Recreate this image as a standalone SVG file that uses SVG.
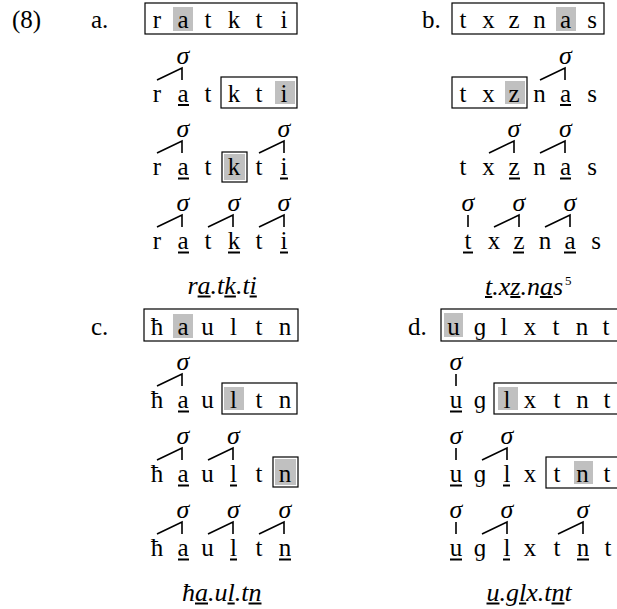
<svg xmlns="http://www.w3.org/2000/svg" width="617" height="609" viewBox="0 0 617 609" font-family="'Liberation Serif', 'DejaVu Serif', serif">
<style>
text{font-family:'Liberation Serif','DejaVu Serif',serif;font-size:25px;fill:#000}
.c{text-anchor:middle}
.sg{font-style:italic;text-anchor:middle;font-size:26px}
.it{font-style:italic;font-size:26px}
.sup{font-size:13px}
.box{fill:none;stroke:#000;stroke-width:1.2}
.sh{fill:#c0c0c0}
.ln{stroke:#000;stroke-width:1.6;fill:none}
.ul{stroke:#000;stroke-width:2}
</style>
<rect width="617" height="609" fill="#fff"/>
<text x="12" y="28">(8)</text>
<g id="a">
<text x="91" y="28">a.</text>
<g id="a-row1">
<rect class="sh" x="173" y="7" width="20" height="24"/>
<rect class="box" x="145" y="3" width="152" height="31"/>
<text class="c" x="157" y="28">r</text><text class="c" x="183" y="28">a</text><text class="c" x="208" y="28">t</text><text class="c" x="234" y="28">k</text><text class="c" x="259" y="28">t</text><text class="c" x="284" y="28">i</text>
</g>
<g id="a-row2">
<rect class="sh" x="275" y="81" width="20" height="23"/>
<rect class="box" x="221" y="77" width="76" height="31"/>
<text class="sg" x="183" y="64">σ</text>
<text class="c" x="157" y="102">r</text><text class="c" x="183" y="102">a</text><text class="c" x="208" y="102">t</text><text class="c" x="234" y="102">k</text><text class="c" x="259" y="102">t</text><text class="c" x="284" y="102">i</text>
<line class="ul" x1="178" y1="105" x2="189" y2="105"/>
</g>
<g id="a-row3">
<rect class="sh" x="224" y="154" width="21" height="26"/>
<rect class="box" x="222" y="152" width="25" height="30"/>
<text class="sg" x="183" y="137">σ</text><text class="sg" x="284" y="137">σ</text>
<text class="c" x="157" y="175">r</text><text class="c" x="183" y="175">a</text><text class="c" x="208" y="175">t</text><text class="c" x="234" y="175">k</text><text class="c" x="259" y="175">t</text><text class="c" x="284" y="175">i</text>
<line class="ul" x1="178" y1="178.5" x2="189" y2="178.5"/><line class="ul" x1="280" y1="178.5" x2="288" y2="178.5"/>
</g>
<g id="a-row4">
<text class="sg" x="183" y="211">σ</text><text class="sg" x="234" y="211">σ</text><text class="sg" x="284" y="211">σ</text>
<text class="c" x="157" y="249">r</text><text class="c" x="183" y="249">a</text><text class="c" x="208" y="249">t</text><text class="c" x="234" y="249">k</text><text class="c" x="259" y="249">t</text><text class="c" x="284" y="249">i</text>
<line class="ul" x1="178" y1="252.5" x2="189" y2="252.5"/><line class="ul" x1="228" y1="252.5" x2="240" y2="252.5"/><line class="ul" x1="280" y1="252.5" x2="288" y2="252.5"/>
</g>
<g id="a-result">
<text class="it" x="187.5" y="294">ra.tk.ti</text>
<line class="ul" x1="197.6" y1="296.5" x2="210.6" y2="296.5"/><line class="ul" x1="224.3" y1="296.5" x2="235.9" y2="296.5"/><line class="ul" x1="249.6" y1="296.5" x2="256.8" y2="296.5"/>
</g>
</g>
<g id="b">
<text x="422" y="28">b.</text>
<g id="b-row1">
<rect class="sh" x="556" y="7" width="20" height="24"/>
<rect class="box" x="452" y="3" width="152" height="31"/>
<text class="c" x="463" y="28">t</text><text class="c" x="488.5" y="28">x</text><text class="c" x="514" y="28">z</text><text class="c" x="539.5" y="28">n</text><text class="c" x="565.5" y="28">a</text><text class="c" x="592" y="28">s</text>
</g>
<g id="b-row2">
<rect class="sh" x="505" y="81" width="20" height="23"/>
<rect class="box" x="452" y="77" width="75" height="31"/>
<text class="sg" x="565.5" y="64">σ</text>
<text class="c" x="463" y="102">t</text><text class="c" x="488.5" y="102">x</text><text class="c" x="514" y="102">z</text><text class="c" x="539.5" y="102">n</text><text class="c" x="565.5" y="102">a</text><text class="c" x="592" y="102">s</text>
<line class="ul" x1="560" y1="105" x2="571" y2="105"/>
</g>
<g id="b-row3">
<text class="sg" x="514" y="137">σ</text><text class="sg" x="565.5" y="137">σ</text>
<text class="c" x="463" y="175">t</text><text class="c" x="488.5" y="175">x</text><text class="c" x="514" y="175">z</text><text class="c" x="539.5" y="175">n</text><text class="c" x="565.5" y="175">a</text><text class="c" x="592" y="175">s</text>
<line class="ul" x1="509" y1="178.5" x2="520" y2="178.5"/><line class="ul" x1="560" y1="178.5" x2="571" y2="178.5"/>
</g>
<g id="b-row4">
<text class="sg" x="468" y="211">σ</text><text class="sg" x="519" y="211">σ</text><text class="sg" x="570" y="211">σ</text>
<text class="c" x="468" y="249">t</text><text class="c" x="494" y="249">x</text><text class="c" x="519" y="249">z</text><text class="c" x="545" y="249">n</text><text class="c" x="570" y="249">a</text><text class="c" x="596" y="249">s</text>
<line class="ul" x1="463" y1="252.5" x2="473" y2="252.5"/><line class="ul" x1="513" y1="252.5" x2="524" y2="252.5"/><line class="ul" x1="564" y1="252.5" x2="576" y2="252.5"/>
</g>
<g id="b-result">
<text class="it" x="485" y="295">t.xz.nas</text>
<text class="sup" x="565" y="285">5</text>
<line class="ul" x1="485" y1="297" x2="492.2" y2="297"/><line class="ul" x1="510.3" y1="297" x2="520.4" y2="297"/><line class="ul" x1="539.9" y1="297" x2="552.9" y2="297"/>
</g>
</g>
<g id="c">
<text x="91" y="335">c.</text>
<g id="c-row1">
<rect class="sh" x="173" y="314" width="20" height="24"/>
<rect class="box" x="144" y="309" width="154" height="32"/>
<text class="c" x="157" y="335">ħ</text><text class="c" x="183" y="335">a</text><text class="c" x="207.5" y="335">u</text><text class="c" x="233.5" y="335">l</text><text class="c" x="259" y="335">t</text><text class="c" x="285" y="335">n</text>
</g>
<g id="c-row2">
<rect class="sh" x="224" y="387" width="20" height="23"/>
<rect class="box" x="222" y="383" width="75" height="31"/>
<text class="sg" x="183" y="370">σ</text>
<text class="c" x="157" y="408">ħ</text><text class="c" x="183" y="408">a</text><text class="c" x="207.5" y="408">u</text><text class="c" x="233.5" y="408">l</text><text class="c" x="259" y="408">t</text><text class="c" x="285" y="408">n</text>
<line class="ul" x1="178" y1="411.5" x2="189" y2="411.5"/>
</g>
<g id="c-row3">
<rect class="sh" x="275" y="459" width="21" height="26"/>
<rect class="box" x="273" y="457" width="25" height="30"/>
<text class="sg" x="183" y="444">σ</text><text class="sg" x="233.5" y="444">σ</text>
<text class="c" x="157" y="482">ħ</text><text class="c" x="183" y="482">a</text><text class="c" x="207.5" y="482">u</text><text class="c" x="233.5" y="482">l</text><text class="c" x="259" y="482">t</text><text class="c" x="285" y="482">n</text>
<line class="ul" x1="178" y1="485.5" x2="189" y2="485.5"/><line class="ul" x1="230" y1="485.5" x2="237" y2="485.5"/>
</g>
<g id="c-row4">
<text class="sg" x="183" y="518">σ</text><text class="sg" x="233.5" y="518">σ</text><text class="sg" x="285" y="518">σ</text>
<text class="c" x="157" y="556">ħ</text><text class="c" x="183" y="556">a</text><text class="c" x="207.5" y="556">u</text><text class="c" x="233.5" y="556">l</text><text class="c" x="259" y="556">t</text><text class="c" x="285" y="556">n</text>
<line class="ul" x1="178" y1="559.5" x2="189" y2="559.5"/><line class="ul" x1="230" y1="559.5" x2="237" y2="559.5"/><line class="ul" x1="279" y1="559.5" x2="291" y2="559.5"/>
</g>
<g id="c-result">
<text class="it" x="182" y="601">ħa.ul.tn</text>
<line class="ul" x1="195" y1="603.5" x2="208" y2="603.5"/><line class="ul" x1="227.5" y1="603.5" x2="234.7" y2="603.5"/><line class="ul" x1="248.5" y1="603.5" x2="261.5" y2="603.5"/>
</g>
</g>
<g id="d">
<text x="408" y="335">d.</text>
<g id="d-row1">
<rect class="sh" x="444" y="313" width="19" height="24"/>
<rect class="box" x="441" y="309" width="200" height="32"/>
<text class="c" x="453.5" y="335">u</text><text class="c" x="480" y="335">ɡ</text><text class="c" x="504" y="335">l</text><text class="c" x="530" y="335">x</text><text class="c" x="556" y="335">t</text><text class="c" x="582" y="335">n</text><text class="c" x="606" y="335">t</text>
</g>
<g id="d-row2">
<rect class="sh" x="498" y="387" width="20" height="23"/>
<rect class="box" x="494" y="383" width="150" height="31"/>
<text class="sg" x="456" y="370">σ</text>
<text class="c" x="456" y="408">u</text><text class="c" x="480" y="408">ɡ</text><text class="c" x="507" y="408">l</text><text class="c" x="530" y="408">x</text><text class="c" x="557" y="408">t</text><text class="c" x="582.5" y="408">n</text><text class="c" x="607" y="408">t</text>
<line class="ul" x1="450" y1="411.5" x2="462" y2="411.5"/>
</g>
<g id="d-row3">
<rect class="sh" x="574" y="461" width="19" height="23"/>
<rect class="box" x="546" y="457" width="100" height="31"/>
<text class="sg" x="456" y="444">σ</text><text class="sg" x="507" y="444">σ</text>
<text class="c" x="456" y="482">u</text><text class="c" x="480" y="482">ɡ</text><text class="c" x="507" y="482">l</text><text class="c" x="530" y="482">x</text><text class="c" x="557" y="482">t</text><text class="c" x="582.5" y="482">n</text><text class="c" x="607" y="482">t</text>
<line class="ul" x1="450" y1="485.5" x2="462" y2="485.5"/><line class="ul" x1="503" y1="485.5" x2="510" y2="485.5"/>
</g>
<g id="d-row4">
<text class="sg" x="456" y="518">σ</text><text class="sg" x="507" y="518">σ</text><text class="sg" x="583" y="518">σ</text>
<text class="c" x="456" y="556">u</text><text class="c" x="480" y="556">ɡ</text><text class="c" x="507" y="556">l</text><text class="c" x="530" y="556">x</text><text class="c" x="557" y="556">t</text><text class="c" x="583" y="556">n</text><text class="c" x="608" y="556">t</text>
<line class="ul" x1="450" y1="559.5" x2="462" y2="559.5"/><line class="ul" x1="503" y1="559.5" x2="510" y2="559.5"/><line class="ul" x1="577" y1="559.5" x2="589" y2="559.5"/>
</g>
<g id="d-result">
<text class="it" x="486.5" y="601">u.glx.tnt</text>
<line class="ul" x1="486.5" y1="603.5" x2="499.5" y2="603.5"/><line class="ul" x1="519" y1="603.5" x2="526.2" y2="603.5"/><line class="ul" x1="551.5" y1="603.5" x2="564.5" y2="603.5"/>
</g>
</g>
<g id="connectors">
<path class="ln" d="M157,80 L182,68 V80"/>
<path class="ln" d="M157,153 L182,141 V153 M259,153 L284,141 V153"/>
<path class="ln" d="M157,227 L182,215 V227 M208,227 L233,215 V227 M259,227 L284,215 V227"/>
<path class="ln" d="M540,80 L565,68 V80"/>
<path class="ln" d="M489,153 L514,141 V153 M540,153 L565,141 V153"/>
<path class="ln" d="M468,215 V227 M494,227 L519,215 V227 M545,227 L570,215 V227"/>
<path class="ln" d="M157,386 L182,374 V386"/>
<path class="ln" d="M157,460 L182,448 V460 M208,460 L233,448 V460"/>
<path class="ln" d="M157,534 L182,522 V534 M208,534 L233,522 V534 M259,534 L284,522 V534"/>
<path class="ln" d="M456,374 V386"/>
<path class="ln" d="M456,448 V460 M482,460 L507,448 V460"/>
<path class="ln" d="M456,522 V534 M482,534 L507,522 V534 M558,534 L583,522 V534"/>
</g>
</svg>
